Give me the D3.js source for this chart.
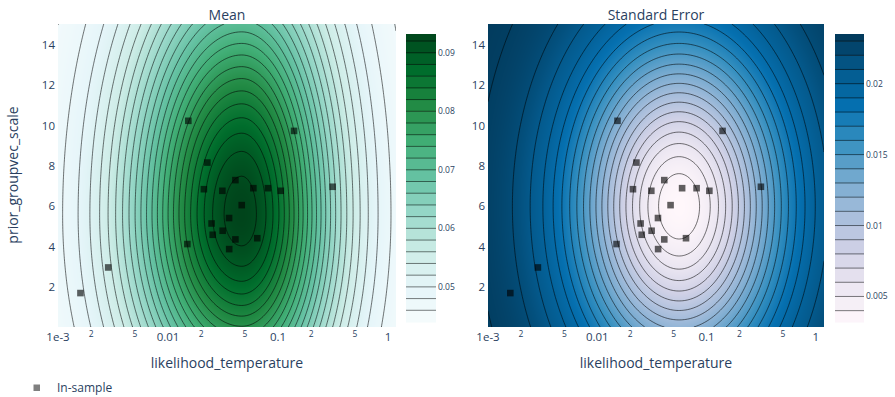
<!DOCTYPE html>
<html>
<head>
<meta charset="utf-8">
<script src="https://cdn.jsdelivr.net/npm/d3@7"></script>
<style>
  body { margin: 0; background: #fff; }
  text { font-family: "Open Sans", verdana, arial, sans-serif; }
</style>
</head>
<body>
<svg id="chart" width="895" height="397"></svg>
<script>
// in-sample arms (likelihood_temperature, prior_groupvec_scale)
const sampleTemp  = [0.0153, 0.14, 0.0228, 0.041, 0.0212, 0.0312, 0.0597, 0.081, 0.106, 0.314,
                     0.0468, 0.0249, 0.0359, 0.0255, 0.0314, 0.041, 0.0648, 0.015, 0.036, 0.00286, 0.0016];
const sampleScale = [10.24, 9.74, 8.17, 7.30, 6.85, 6.77, 6.90, 6.90, 6.77, 6.97,
                     6.06, 5.15, 5.42, 4.59, 4.79, 4.36, 4.42, 4.13, 3.88, 2.97, 1.70];

// axis ticks
const xTicks = [0.001, 0.01, 0.1, 1];
const xTickLabels = ["1e-3", "0.01", "0.1", "1"];
const xMinorTicks = [0.002, 0.005, 0.02, 0.05, 0.2, 0.5];
const xMinorLabels = ["2", "5", "2", "5", "2", "5"];
const yTicks = [2, 4, 6, 8, 10, 12, 14];
const meanTicks = [0.05, 0.06, 0.07, 0.08, 0.09];
const semTicks = [0.005, 0.01, 0.015, 0.02];

// colour range shown on each colour bar, and the contour levels
const meanRange = [0.0440, 0.0932];
const semRange = [0.0032, 0.0235];
const meanLevels = d3.range(24).map(k => 0.046 + k * 0.002);
const semLevels = d3.range(20).map(k => 0.004 + k * 0.001);

// shape of the two surfaces:
// [peak value, floor value, temp at peak, scale at peak]
const meanPeak = [0.0932, 0.0442, 0.0468, 5.6];
// spreads: [log10 temp left, log10 temp right, scale up, scale down]
const meanSpread = [0.72, 0.6, 8.5, 7.0];
// [min value, rise, temp at min, scale at min]
const semMin = [0.0032, 0.0202, 0.056, 6.0];
const semSpread = [0.66, 5.7];

const greenScale = ["rgb(247,252,253)", "rgb(229,245,249)", "rgb(204,236,230)", "rgb(153,216,201)",
  "rgb(102,194,164)", "rgb(65,174,118)", "rgb(35,139,69)", "rgb(0,109,44)", "rgb(0,68,27)"];
const blueScale = ["rgb(255,247,251)", "rgb(236,231,242)", "rgb(208,209,230)", "rgb(166,189,219)",
  "rgb(116,169,207)", "rgb(54,144,192)", "rgb(5,112,176)", "rgb(4,90,141)", "rgb(2,56,88)"];

function meanAt(t, s) {
  const dx = Math.log10(t) - Math.log10(meanPeak[2]);
  const dy = s - meanPeak[3];
  const sx = dx < 0 ? meanSpread[0] : meanSpread[1];
  const sy = dy > 0 ? meanSpread[2] : meanSpread[3];
  const u = dx * dx / (2 * sx * sx) + dy * dy / (2 * sy * sy);
  return meanPeak[1] + (meanPeak[0] - meanPeak[1]) * Math.exp(-u);
}

function semAt(t, s) {
  const dx = Math.log10(t) - Math.log10(semMin[2]);
  const dy = s - semMin[3];
  const u = dx * dx / (2 * semSpread[0] * semSpread[0]) + dy * dy / (2 * semSpread[1] * semSpread[1]);
  return semMin[0] + semMin[1] * (1 - Math.exp(-u));
}

const svg = d3.select("#chart");
const textColor = "#2a3f5f";
const plotTop = 24, plotBottom = 327;

function drawPanel(cfg) {
  const g = svg.append("g");
  const w = cfg.x1 - cfg.x0, h = plotBottom - plotTop;

  const x = d3.scaleLog().domain([0.001, Math.pow(10, -3 + w / cfg.decade)]).range([cfg.x0, cfg.x1]);
  const y = d3.scaleLinear().domain([15.04, 15.04 - h / 20.17]).range([plotTop, plotBottom]);

  const color = d3.scaleLinear()
    .domain(cfg.colors.map((c, i) => cfg.range[0] + i * (cfg.range[1] - cfg.range[0]) / (cfg.colors.length - 1)))
    .range(cfg.colors).interpolate(d3.interpolateRgb).clamp(true);

  // heatmap fill
  const canvas = document.createElement("canvas");
  canvas.width = w; canvas.height = h;
  const ctx = canvas.getContext("2d");
  const img = ctx.createImageData(w, h);
  for (let j = 0; j < h; j++) {
    const s = y.invert(plotTop + j + 0.5);
    for (let i = 0; i < w; i++) {
      const t = x.invert(cfg.x0 + i + 0.5);
      const c = d3.rgb(color(cfg.fn(t, s)));
      const k = (j * w + i) * 4;
      img.data[k] = c.r; img.data[k + 1] = c.g; img.data[k + 2] = c.b; img.data[k + 3] = 255;
    }
  }
  ctx.putImageData(img, 0, 0);
  g.append("image").attr("x", cfg.x0).attr("y", plotTop).attr("width", w).attr("height", h)
    .attr("href", canvas.toDataURL());

  // contour lines
  const nx = 220, ny = 200;
  const values = new Array(nx * ny);
  for (let j = 0; j < ny; j++) {
    const s = y.invert(plotTop + j / (ny - 1) * h);
    for (let i = 0; i < nx; i++) {
      values[j * nx + i] = cfg.fn(x.invert(cfg.x0 + i / (nx - 1) * w), s);
    }
  }
  const gx = d3.scaleLinear().domain([0.5, nx - 0.5]).range([cfg.x0, cfg.x1]);
  const gy = d3.scaleLinear().domain([0.5, ny - 0.5]).range([plotTop, plotBottom]);
  const path = d3.geoPath(d3.geoTransform({
    point: function(px, py) { this.stream.point(gx(px), gy(py)); }
  }));
  const clipId = "clip" + cfg.x0;
  g.append("clipPath").attr("id", clipId).append("rect")
    .attr("x", cfg.x0).attr("y", plotTop).attr("width", w).attr("height", h);
  g.append("g").attr("clip-path", "url(#" + clipId + ")")
    .selectAll("path")
    .data(d3.contours().size([nx, ny]).thresholds(cfg.levels)(values))
    .join("path")
    .attr("d", path)
    .attr("fill", "none")
    .attr("stroke", "#000")
    .attr("stroke-opacity", 0.55)
    .attr("stroke-width", 1);

  // in-sample points
  g.append("g").selectAll("rect")
    .data(d3.range(sampleTemp.length))
    .join("rect")
    .attr("x", i => x(sampleTemp[i]) - 3.3)
    .attr("y", i => y(sampleScale[i]) - 3.3)
    .attr("width", 6.6).attr("height", 6.6)
    .attr("fill", "#000").attr("fill-opacity", 0.62);

  // x axis labels
  g.append("g").selectAll("text").data(xTicks).join("text")
    .attr("x", d => x(d)).attr("y", 340.5)
    .attr("text-anchor", "middle").attr("font-size", 11.5).attr("fill", textColor)
    .text((d, i) => xTickLabels[i]);
  g.append("g").selectAll("text").data(xMinorTicks).join("text")
    .attr("x", d => x(d)).attr("y", 337)
    .attr("text-anchor", "middle").attr("font-size", 8.5).attr("fill", textColor)
    .text((d, i) => xMinorLabels[i]);

  // y axis labels
  g.append("g").selectAll("text").data(yTicks).join("text")
    .attr("x", cfg.x0 - 3).attr("y", d => y(d)).attr("dy", "0.35em")
    .attr("text-anchor", "end").attr("font-size", 11.5).attr("fill", textColor)
    .text(d => d);

  g.append("text").attr("x", (cfg.x0 + cfg.x1) / 2).attr("y", 367.5)
    .attr("text-anchor", "middle").attr("font-size", 14).attr("fill", textColor)
    .text("likelihood_temperature");
  g.append("text").attr("x", (cfg.x0 + cfg.x1) / 2).attr("y", 19.5)
    .attr("text-anchor", "middle").attr("font-size", 14).attr("fill", textColor)
    .text(cfg.title);

  // colour bar
  const cbTop = 34, cbBottom = 322;
  const cy = d3.scaleLinear().domain(cfg.range).range([cbBottom, cbTop]);
  const edges = [cfg.range[0]].concat(cfg.levels.filter(v => v > cfg.range[0] && v < cfg.range[1]), [cfg.range[1]]);
  const cb = g.append("g");
  cb.selectAll("rect").data(d3.range(edges.length - 1)).join("rect")
    .attr("x", cfg.cbx).attr("width", cfg.cbw)
    .attr("y", i => cy(edges[i + 1]))
    .attr("height", i => cy(edges[i]) - cy(edges[i + 1]) + 0.5)
    .attr("fill", i => color((edges[i] + edges[i + 1]) / 2));
  cb.selectAll("line").data(cfg.levels).join("line")
    .attr("x1", cfg.cbx).attr("x2", cfg.cbx + cfg.cbw)
    .attr("y1", d => cy(d)).attr("y2", d => cy(d))
    .attr("stroke", "#000").attr("stroke-opacity", 0.5);
  cb.selectAll("text").data(cfg.ticks).join("text")
    .attr("x", cfg.cbx + cfg.cbw + 2).attr("y", d => cy(d)).attr("dy", "0.35em")
    .attr("font-size", 8.5).attr("fill", textColor)
    .text(d => d3.format("")(d));
}

drawPanel({x0: 58, x1: 396, decade: 110, title: "Mean", fn: meanAt, range: meanRange,
  levels: meanLevels, colors: greenScale, ticks: meanTicks, cbx: 406, cbw: 30});
drawPanel({x0: 488, x1: 824, decade: 109.3, title: "Standard Error", fn: semAt, range: semRange,
  levels: semLevels, colors: blueScale, ticks: semTicks, cbx: 835, cbw: 29});

svg.append("text").attr("transform", "translate(18,175) rotate(-90)")
  .attr("text-anchor", "middle").attr("font-size", 14).attr("fill", textColor)
  .text("prior_groupvec_scale");

// legend
svg.append("rect").attr("x", 33.5).attr("y", 384.5).attr("width", 6.5).attr("height", 6.5)
  .attr("fill", "#000").attr("fill-opacity", 0.5);
svg.append("text").attr("x", 57).attr("y", 388).attr("dy", "0.35em")
  .attr("font-size", 12).attr("fill", textColor).text("In-sample");
</script>
</body>
</html>
